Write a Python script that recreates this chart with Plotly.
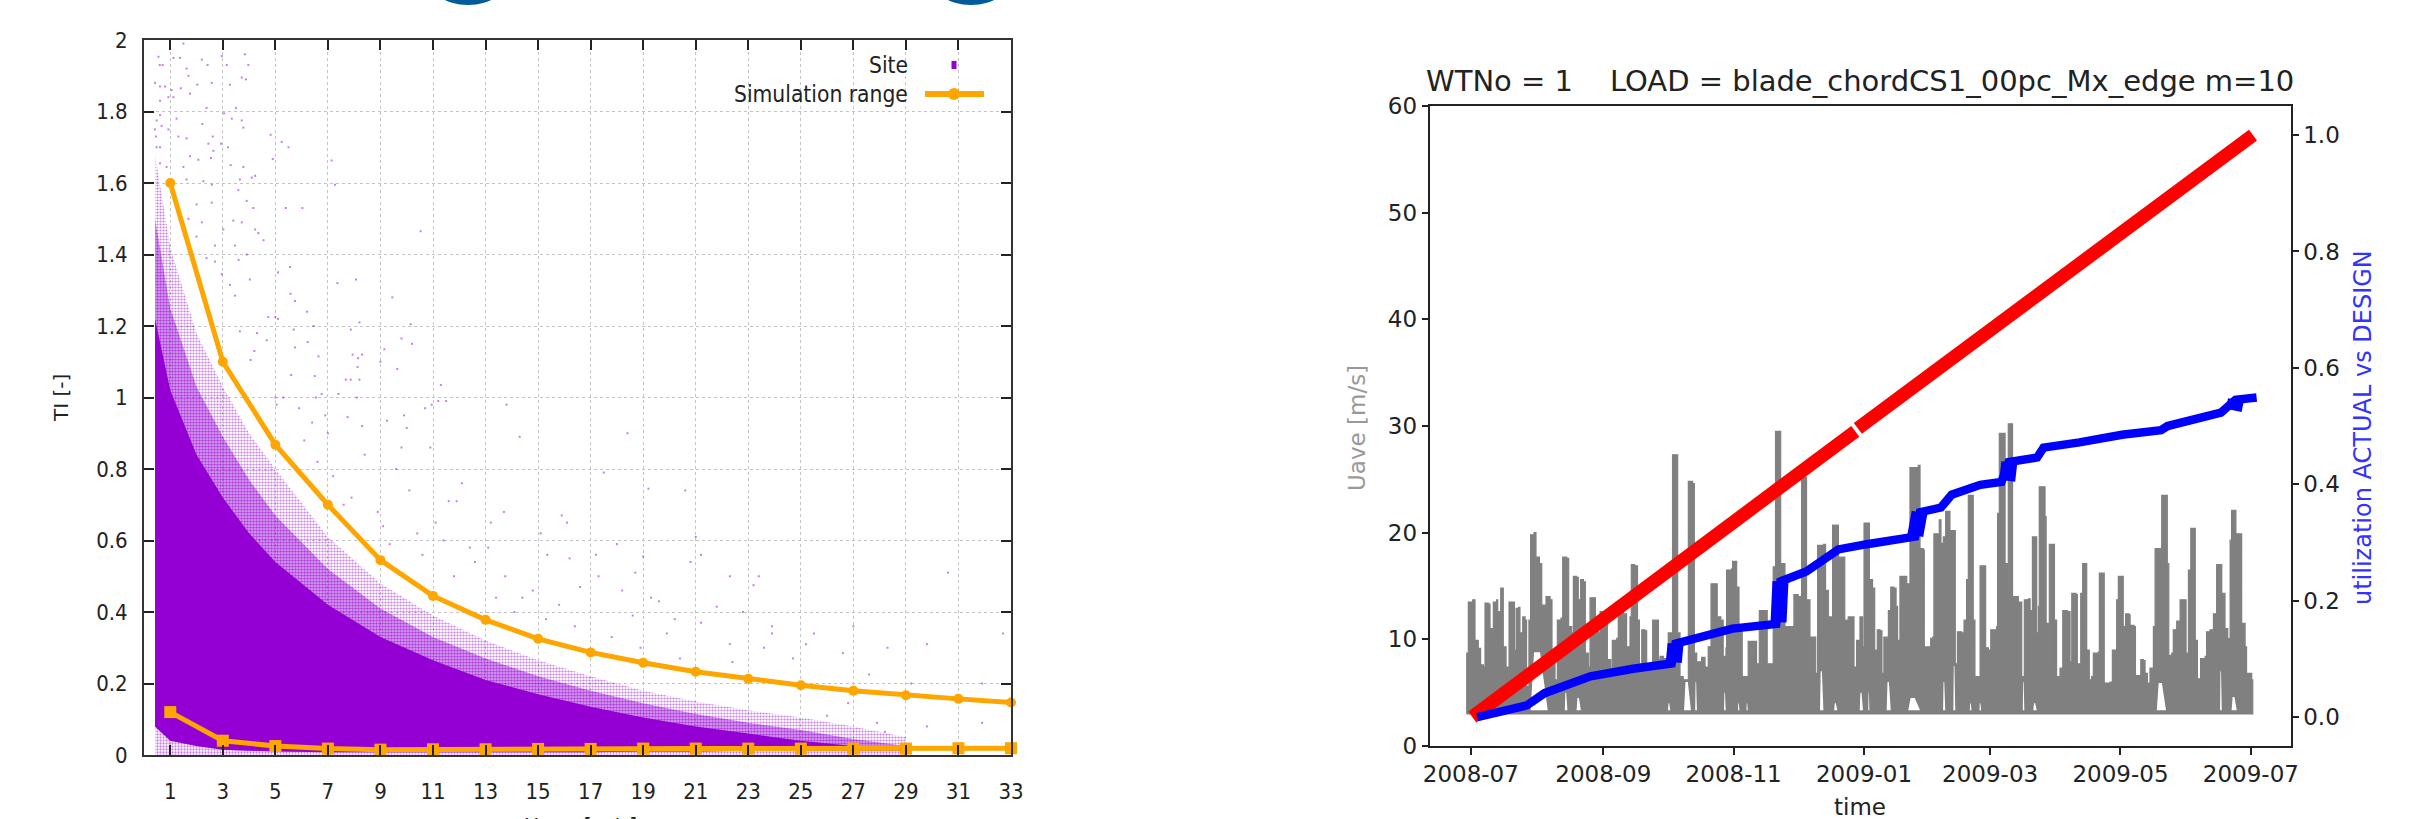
import pandas as pd
import plotly.graph_objects as go

W, H = 2411, 819
PURPLE = "#9400D3"
ORANGE = "#FFA500"

# ---- left chart: TI against wind speed
speed = [1, 3, 5, 7, 9, 11, 13, 15, 17, 19, 21, 23, 25, 27, 29, 31, 33]
ti_upper = [1.6, 1.1, 0.868, 0.7, 0.545, 0.445, 0.378, 0.325, 0.287, 0.258, 0.233, 0.213, 0.195, 0.18, 0.167, 0.157, 0.147]
ti_lower = [0.12, 0.04, 0.025, 0.018, 0.015, 0.016, 0.016, 0.017, 0.017, 0.018, 0.018, 0.018, 0.018, 0.018, 0.018, 0.019, 0.019]

cloud_x = [0.42, 1, 2, 3, 4, 5, 7, 9, 11, 13, 15, 17, 19, 21, 23, 25, 27, 29]
cloud_solid_top = [1.22, 1.02, 0.84, 0.72, 0.62, 0.54, 0.42, 0.33, 0.265, 0.21, 0.17, 0.135, 0.105, 0.08, 0.06, 0.04, 0.025, 0.015]
cloud_mid_top = [1.5, 1.25, 1.03, 0.89, 0.77, 0.67, 0.52, 0.41, 0.33, 0.27, 0.22, 0.18, 0.145, 0.115, 0.09, 0.07, 0.045, 0.025]
cloud_outer_top = [1.68, 1.42, 1.18, 1.03, 0.9, 0.8, 0.61, 0.48, 0.39, 0.32, 0.265, 0.22, 0.18, 0.15, 0.125, 0.105, 0.08, 0.05]
cloud_bottom = [0.08, 0.04, 0.025, 0.015, 0.012, 0.01, 0.008, 0.008, 0.008, 0.008, 0.008, 0.008, 0.01, 0.01, 0.012, 0.012, 0.012, 0.012]
cloud_floor = [0.0] * 18

stray_x = [0.55, 1.5, 1.37, 1.12, 2.96, 3.84, 3.97, 3.15, 2.42, 2.2, 1.62, 1.69, 0.6, 0.71, 0.61, 0.8, 0.42, 1.05, 1.4, 1.75, 2.03, 2.58, 3.72, 3.88, 3.27, 0.93, 1.12, 0.61,
           0.61, 0.48, 0.67, 0.42, 1.24, 0.93, 1.31, 0.46, 1.62, 2.38, 3.5, 3.05, 3.34, 3.72, 2.22, 3.78, 2.62, 4.82, 5.24, 5.5, 2.45, 2.93, 3.2, 2.64, 1.75, 0.61, 0.48, 2.07, 4.9, 7.14, 2.55, 3.3, 3.78,
           0.61, 0.86, 1.5, 4.23, 4.1, 1.62, 2.26, 2.58, 3.65, 7.27, 3.59, 2.0, 2.58, 3.91, 5.4, 6.03, 4.16, 1.69, 2.2, 3.4, 3.72, 3.02, 4.23, 4.35, 10.53, 2.0, 4.55, 2.7, 3.46, 3.91, 2.38, 3.6, 2.7,
           5.56, 5.1, 4.03, 8.07, 7.36, 3.27, 9.45, 5.58, 5.75, 3.46, 2.96, 6.2, 5.0, 4.73, 5.1, 8.2, 10.15, 7.87, 6.45, 5.7, 3.65, 4.3, 4.67, 9.8, 10.2, 6.23, 4.2, 5.75, 9.15, 7.94, 8.3, 6.64, 8.15, 9.0, 4.06, 9.64, 8.13, 6.5, 5.6, 7.68, 7.87, 8.2, 11.3,
           5.3, 6.76, 7.4, 5.0, 6.55, 8.1, 11.2, 11.5, 13.8, 10.7, 10.95, 5.9, 5.05, 6.9, 7.75, 9.9, 9.25, 10.0,
           14.3, 15.9, 16.1, 17.5, 18.4, 20.6, 19.2, 21.0, 21.2, 23.4, 23.2, 22.3, 19.0, 18.7, 20.8, 18.0, 17.2, 16.2, 13.2, 11.6, 11.9, 10.1, 11.1, 9.35, 13.75, 14.8, 15.35, 21.2, 23.9, 25.5, 30.6, 25.2, 26.6, 27.6, 29.2, 31.9, 29.8, 32.7, 28.3, 27.0, 22.8, 21.8, 19.6, 19.9, 18.6, 24.7, 23.6, 22.3, 26.0, 27.9, 29.8, 31.9, 28.2, 26.8, 23.9,
           6.1, 6.6, 7.2, 7.9, 8.4, 8.9, 9.6, 10.4, 10.9, 11.4, 12.1, 12.6, 13.1, 13.7, 14.4, 15.1, 15.8, 16.6, 17.3, 18.2, 19.3, 20.2, 6.4, 7.0, 7.6, 8.3, 9.1, 9.8, 10.6, 11.8, 12.4, 13.4, 14.1, 15.3, 16.4, 17.8, 18.9, 20.4, 22.4, 24.2]
stray_y = [1.953, 1.99, 1.95, 1.95, 1.955, 1.96, 1.93, 1.93, 1.93, 1.945, 1.92, 1.90, 1.93, 1.93, 1.87, 1.87, 1.88, 1.86, 1.865, 1.85, 1.875, 1.88, 1.895, 1.89, 1.875, 1.84, 1.84, 1.83,
           1.79, 1.775, 1.76, 1.75, 1.78, 1.75, 1.73, 1.73, 1.725, 1.81, 1.81, 1.795, 1.78, 1.775, 1.765, 1.755, 1.73, 1.735, 1.715, 1.70, 1.71, 1.71, 1.70, 1.69, 1.675, 1.70, 1.70, 1.665, 1.667, 1.663, 1.67, 1.65, 1.645,
           1.655, 1.645, 1.645, 1.62, 1.615, 1.61, 1.605, 1.595, 1.61, 1.595, 1.58, 1.54, 1.545, 1.55, 1.53, 1.53, 1.53, 1.50, 1.49, 1.495, 1.49, 1.47, 1.47, 1.46, 1.465, 1.45, 1.44, 1.425, 1.425, 1.40, 1.39, 1.385, 1.38,
           1.365, 1.35, 1.33, 1.33, 1.32, 1.315, 1.28, 1.29, 1.27, 1.285, 1.345, 1.24, 1.225, 1.225, 1.22, 1.21, 1.205, 1.19, 1.2, 1.19, 1.185, 1.18, 1.16, 1.165, 1.15, 1.155, 1.13, 1.14, 1.135, 1.12, 1.12, 1.115, 1.11, 1.10, 1.105, 1.08, 1.085, 1.06, 1.063, 1.05, 1.05, 1.05, 1.035,
           1.0, 1.01, 1.01, 1.0, 1.0, 1.0, 0.99, 0.99, 0.98, 0.97, 0.98, 0.97, 0.98, 0.95, 0.945, 0.95, 0.935, 0.915,
           0.89, 0.67, 0.65, 0.79, 0.90, 0.74, 0.745, 0.61, 0.56, 0.5, 0.475, 0.5, 0.555, 0.51, 0.54, 0.59, 0.56, 0.55, 0.65, 0.71, 0.71, 0.74, 0.65, 0.59, 0.5, 0.46, 0.56, 0.37, 0.36, 0.34, 0.51, 0.31, 0.285, 0.225, 0.2, 0.2, 0.31, 0.34, 0.3, 0.36, 0.4, 0.415, 0.43, 0.34, 0.39, 0.27, 0.3, 0.31, 0.11, 0.09, 0.08, 0.09, 0.065, 0.145, 0.34,
           0.88, 0.82, 0.78, 0.72, 0.84, 0.68, 0.8, 0.62, 0.86, 0.6, 0.76, 0.54, 0.58, 0.68, 0.44, 0.62, 0.42, 0.47, 0.5, 0.46, 0.44, 0.38, 0.93, 0.9, 0.7, 0.92, 0.64, 0.86, 0.56, 0.5, 0.58, 0.44, 0.4, 0.38, 0.36, 0.33, 0.3, 0.27, 0.26, 0.2]

left_y_ticks = [0, 0.2, 0.4, 0.6, 0.8, 1, 1.2, 1.4, 1.6, 1.8, 2]
left_y_labels = ["0", "0.2", "0.4", "0.6", "0.8", "1", "1.2", "1.4", "1.6", "1.8", "2"]

# ---- right chart: time series (days counted from 2008-07-01)
start_date = pd.Timestamp("2008-07-01")
date_ticks = ["2008-07-01", "2008-09-01", "2008-11-01", "2009-01-01", "2009-03-01", "2009-05-01", "2009-07-01"]
date_labels = ["2008-07", "2008-09", "2008-11", "2009-01", "2009-03", "2009-05", "2009-07"]

uave_floor = 3
uave_days = [-1.9, -1.9, -1.15, 0.9, 1.97, 3.5, 4.6, 5.9, 6.65, 8.2, 9, 10.55, 12.1, 12.6, 14, 15.2, 16.5, 17.9, 19.4, 20.4, 21.2, 22.4, 23, 24.3, 25.4, 26.1, 27.2, 28, 29.6, 30.5, 32.1, 33.2, 35.2, 37.1, 38, 39.4, 40.5, 42.2, 43, 44.9, 45.8, 47.2, 48, 49.5, 50.3, 51.4, 52.7, 53.6, 55, 55.8, 57.4, 58.3, 59.7, 60.5, 62.8, 63.9, 65.5, 66.2, 68.3, 69, 71.4, 72.9, 74.5, 75.1, 76.7, 78, 78.9, 80, 81.5, 82.3, 84.7, 85.1, 87, 87.8, 88.6, 90.1, 92.4,
             94.4, 96.3, 96.8, 97.9, 99.4, 101.8, 103.8, 104.6, 105.7, 108, 109.6, 111.1, 112.4, 114.7, 115.3, 117, 118.1, 119.4, 119.7, 122, 122.5, 123.8, 124.4, 125.5, 127, 127.8, 129.8, 132.2, 133.7, 135, 137.6, 138.7, 141.5, 142.6, 144.4, 145, 147, 150.1, 151.2, 153.2, 154.8, 156.7, 157.1, 158.7, 160.6, 161.4, 162.3, 165, 166, 167.3, 168.8, 169.3, 171.2, 172, 175, 176.6, 178.5, 179.3, 180.5, 182.1, 183.3,
             184, 185.6, 186.5, 188, 189, 190.2, 191.5, 192.4, 193.3, 195.4, 196.5, 198, 199, 199.7, 200.8, 202.8, 204, 205.5, 209.4, 210.2, 211.7, 212.2, 214.4, 215.2, 216.1, 216.7, 219.2, 220, 221.1, 222.2, 223.4, 224.2, 226.2, 226.7, 227.7, 229.7, 230.8, 232, 232.8, 234.4, 235.1, 235.9, 237.5, 238.3, 240.1, 240.9, 242.2, 243.3, 246, 246.5, 247.3, 249.2, 250, 251, 251.5, 252.6, 253.5, 256.2, 257.8, 259, 260.9, 261.7, 262.8, 264.3, 264.8, 265.6, 266, 267.6, 268.7, 269.2, 270.2, 270.7, 272.6, 273.1, 274.1, 275.7,
             277, 279.1, 280.4, 281.2, 283.2, 283.8, 285.4, 286.3, 287.4, 288.2, 289.4, 290.5, 291.3, 293.6, 294.1, 296, 296.4, 299.1, 300.2, 302.2, 303, 304.6, 305.3, 306.4, 308, 308.5, 310.3, 311, 312.8, 313.5, 314.7, 315.5, 316.6, 317.8, 319.4, 320.2, 322.2, 323.3, 324.8, 325.9, 326.6, 328, 328.7, 330.3, 331.9, 333.7, 334.7, 335.8, 336.9, 338.4, 339, 340, 341.5, 343.6, 344.3, 345.9, 347.5, 349, 350.6, 351.4, 352.9, 354.2, 355.3, 356, 357.3, 358, 359.2, 360.7, 362.3, 363, 365.4, 365.9]
uave_vals = [3, 8.7, 13.5, 13.7, 9.9, 9.15, 7.6, 7.4, 13.4, 13.3, 11, 13.5, 13.7, 12.6, 14.8, 9.3, 7.4, 13.5, 13.5, 9, 12.9, 13, 10.6, 12.1, 11.8, 5.56, 11.8, 19.8, 20, 17.7, 17.1, 13.2, 14, 13.7, 7.7, 6.2, 11.8, 12, 17.7, 17.6, 11.2, 10.6, 15.9, 15.8, 13.7, 15.6, 15.4, 8.7, 7.4, 13.9, 13.9, 11.2, 10.6, 12.6, 12.7, 8.1, 7.3, 9.9, 10.1, 12.6, 12.4, 9.3, 12.1, 17, 16.9, 11.8, 7.7, 10.9, 10.8, 7.6, 7.4, 11.8, 11.8, 8.1, 8.4, 8.2, 10.6,
             27.3, 27.3, 10.6, 6.5, 6.2, 24.8, 24.6, 8.7, 7.9, 8.3, 7.4, 9.3, 15.2, 15.2, 12.1, 11.8, 8.4, 9.2, 16.5, 16.6, 17.3, 17.3, 14.9, 11.2, 6.5, 6.5, 9.8, 9.8, 7.7, 12.7, 12.7, 7.7, 16.8, 29.5, 29.5, 17.1, 11.2, 11.2, 14.2, 14, 25.2, 25.2, 13.7, 10.2, 10.2, 6.8, 18.8, 18.9, 14.6, 12.1, 12.1, 20.7, 20.7, 17.7, 11.8, 12.1, 12.1, 7.4, 9.9, 12.1, 9.3,
             20.9, 20.9, 15.6, 14.8, 9, 10.9, 10.8, 6.8, 10.2, 12.7, 14.9, 14.8, 13.1, 9.9, 15.9, 15.9, 15.2, 26.1, 26.3, 18.5, 18.4, 9.3, 9.3, 10.1, 10.2, 19.9, 21.2, 19, 19.6, 22, 22, 20.2, 20.2, 7.7, 10.7, 10.6, 11.8, 15.6, 23.5, 23.5, 11.8, 6.5, 6.5, 16.9, 16.9, 9.2, 9, 10.9, 11.2, 21.8, 29.3, 29.3, 17.1, 14.6, 30.2, 30.2, 14, 13.5, 6.5, 13.7, 13.8, 12.7, 19.6, 19.6, 10.6, 13.1, 24.3, 24.3, 21.5, 11.5, 7.4, 18.9, 18.9, 11.8, 6.5, 7.3,
             12.7, 12.6, 7.9, 14.3, 14.2, 7.7, 14.3, 17.1, 17.1, 9, 6.2, 6.5, 8.7, 8.8, 16.2, 16.2, 5.9, 6, 9, 13.7, 15.9, 15.9, 11.2, 12.4, 12.3, 11.3, 11.2, 6.6, 6.6, 8.1, 8, 6.8, 5.9, 7.3, 11.2, 18.5, 18.5, 23.5, 23.5, 17.1, 8.5, 8.7, 10.9, 11.7, 13.7, 13.7, 8.7, 16.5, 20.4, 20.4, 9.9, 6.3, 8.2, 8.4, 10.7, 10.9, 12.4, 17, 17, 14.3, 11, 10.1, 19.3, 22.1, 22.1, 19.9, 19.9, 11.5, 9.3, 6.8, 6.2, 3]

# spaces where the grey trace leaves the floor empty
gap_start = [28, 44, 49.5, 92.3, 99.8, 105.0, 118.5, 125, 129, 163.4, 170, 182, 186, 194.6, 204.7, 221, 225.8, 233.5, 238, 258.3, 263.2, 321, 350.6, 356]
gap_end = [36, 45.2, 51.5, 93.3, 103, 105.8, 119.3, 125.7, 129.6, 165, 171.5, 183.5, 186.5, 196.5, 210.2, 222, 226.7, 234.3, 238.8, 259, 264.8, 325.3, 351.4, 358.4]
gap_top = [8.8, 5, 4.5, 4, 6, 6, 5, 4, 4, 7, 4, 5, 5, 6, 4.5, 6, 7.5, 4, 4, 6, 4, 5.9, 7, 4.6]

red_days = [0.7, 179.9, None, 181.1, 366]
red_vals = [0.0, 0.491, None, 0.496, 1.0]

blue_days = [3, 12.9, 26.2, 34.5, 46.1, 56, 76, 94, 95.8, 105.8, 122.4, 142.9, 144.9, 157, 172, 185.3, 207.9, 210.2, 220, 225, 238.4, 248.3, 251.7, 265, 268, 284.8, 304.7, 323, 326, 351, 357.8, 367.7]
blue_vals = [0.0, 0.009, 0.02, 0.041, 0.058, 0.07, 0.083, 0.092, 0.126, 0.135, 0.152, 0.16, 0.233, 0.25, 0.288, 0.297, 0.31, 0.352, 0.36, 0.382, 0.399, 0.404, 0.438, 0.446, 0.463, 0.472, 0.485, 0.493, 0.50, 0.523, 0.545, 0.549]
step_days = [95, 95.8, None, 144, 144.9, None, 208, 210, None, 251, 252, None, 357, 358]
step_vals = [0.094, 0.126, None, 0.163, 0.233, None, 0.312, 0.352, None, 0.406, 0.438, None, 0.527, 0.545]


def to_dates(days):
    return [None if d is None else start_date + pd.Timedelta(days=d) for d in days]


fig = go.Figure()


def band(top, bottom, pattern_solidity=None, size=3):
    kw = dict(x=cloud_x + cloud_x[::-1], y=top + bottom[::-1], mode="none",
              fill="toself", hoverinfo="skip", showlegend=False, xaxis="x", yaxis="y")
    if pattern_solidity:
        kw["fillcolor"] = "rgba(0,0,0,0)"
        kw["fillpattern"] = dict(shape=".", fgcolor=PURPLE, bgcolor="rgba(0,0,0,0)",
                                 size=size, solidity=pattern_solidity)
    else:
        kw["fillcolor"] = PURPLE
    return go.Scatter(**kw)


fig.add_trace(band(cloud_bottom, cloud_floor, 0.45, 3))
fig.add_trace(band(cloud_outer_top, cloud_bottom, 0.42, 3))
fig.add_trace(band(cloud_mid_top, cloud_bottom, 0.85, 3))
fig.add_trace(band(cloud_solid_top, cloud_bottom))
fig.add_trace(go.Scatter(x=stray_x, y=stray_y, mode="markers", name="Site",
                         marker=dict(color=PURPLE, size=2, symbol="square", opacity=0.5, line=dict(width=0)),
                         xaxis="x", yaxis="y", showlegend=False))
fig.add_trace(go.Scatter(x=speed, y=ti_upper, mode="lines+markers", name="Simulation range",
                         line=dict(color=ORANGE, width=5), marker=dict(color=ORANGE, size=10, symbol="circle"),
                         cliponaxis=False, xaxis="x", yaxis="y", showlegend=False))
fig.add_trace(go.Scatter(x=speed, y=ti_lower, mode="lines+markers", name="Simulation range (lower)",
                         line=dict(color=ORANGE, width=5), marker=dict(color=ORANGE, size=12, symbol="square"),
                         cliponaxis=False, xaxis="x", yaxis="y", showlegend=False))

# right chart
poly_x = uave_days + [uave_days[-1], uave_days[0]]
poly_y = uave_vals + [uave_floor, uave_floor]
fig.add_trace(go.Scatter(x=to_dates(poly_x), y=poly_y, mode="lines", fill="toself", fillcolor="#808080",
                         line=dict(color="#808080", width=1.2, shape="hv"), name="Uave", showlegend=False,
                         xaxis="x2", yaxis="y2"))
gx, gy = [], []
for a, b, t in zip(gap_start, gap_end, gap_top):
    mid_a = a + (b - a) * 0.2
    mid_b = b - (b - a) * 0.45
    gx += [a, mid_a, mid_b, b, None]
    gy += [uave_floor + 0.35, t, t, uave_floor + 0.35, None]
fig.add_trace(go.Scatter(x=to_dates(gx), y=gy, mode="none", fill="toself", fillcolor="white",
                         hoverinfo="skip", showlegend=False, xaxis="x2", yaxis="y2"))
fig.add_trace(go.Scatter(x=to_dates(red_days), y=red_vals, mode="lines", line=dict(color="#FF0000", width=13.5),
                         name="design", showlegend=False, xaxis="x2", yaxis="y3"))
fig.add_trace(go.Scatter(x=to_dates(blue_days), y=blue_vals, mode="lines", line=dict(color="#0000FF", width=8.5),
                         name="actual", showlegend=False, xaxis="x2", yaxis="y3"))
fig.add_trace(go.Scatter(x=to_dates(step_days), y=step_vals, mode="lines", line=dict(color="#0000FF", width=16),
                         name="actual steps", showlegend=False, xaxis="x2", yaxis="y3"))

LEFT_FONT = "DejaVu Sans Condensed, Liberation Sans Narrow, DejaVu Sans, sans-serif"
RIGHT_FONT = "DejaVu Sans, sans-serif"
INK = "#222222"


def px_x(p):
    return p / W


def px_y(p):
    return (H - p) / H


fig.update_layout(
    width=W, height=H, margin=dict(l=0, r=0, t=0, b=0, autoexpand=False), paper_bgcolor="white", plot_bgcolor="white",
    showlegend=False,
    xaxis=dict(domain=[px_x(144), px_x(1011)], range=[0, 33], tickvals=speed, ticktext=[str(s) for s in speed],
               ticks="inside", ticklen=10, tickwidth=1.5, tickcolor=INK, mirror="allticks", showline=True,
               linecolor="#333333", linewidth=2, showgrid=True, gridcolor="#C4C4C4", griddash="dot", gridwidth=1,
               zeroline=False, tickfont=dict(family=LEFT_FONT, size=22, color=INK), ticklabelstandoff=16, anchor="y"),
    yaxis=dict(domain=[px_y(755), px_y(40)], range=[0, 2], tickvals=left_y_ticks, ticktext=left_y_labels,
               ticks="inside", ticklen=10, tickwidth=1.5, tickcolor=INK, mirror="allticks", showline=True,
               linecolor="#333333", linewidth=2, showgrid=True, gridcolor="#C4C4C4", griddash="dot", gridwidth=1,
               zeroline=False, tickfont=dict(family=LEFT_FONT, size=22, color=INK), ticklabelstandoff=10, anchor="x"),
    xaxis2=dict(domain=[px_x(1430.4), px_x(2290.6)], type="date",
                range=[start_date + pd.Timedelta(days=-18.9), start_date + pd.Timedelta(days=383.6)],
                tickvals=date_ticks, ticktext=date_labels, ticks="outside", ticklen=7, tickwidth=1.5, tickcolor=INK,
                showline=True, mirror=True, linecolor=INK, linewidth=1.5, showgrid=False, zeroline=False,
                tickfont=dict(family=RIGHT_FONT, size=23, color=INK), anchor="y2"),
    yaxis2=dict(domain=[px_y(746), px_y(106)], range=[0, 60], tickvals=[0, 10, 20, 30, 40, 50, 60],
                ticks="outside", ticklen=7, tickwidth=1.5, tickcolor=INK, showline=True, mirror=True,
                linecolor=INK, linewidth=1.5, showgrid=False, zeroline=False,
                tickfont=dict(family=RIGHT_FONT, size=23, color=INK), anchor="x2"),
    yaxis3=dict(domain=[px_y(746), px_y(106)], range=[-0.0498, 1.05], overlaying="y2", side="right",
                tickvals=[0, 0.2, 0.4, 0.6, 0.8, 1.0], ticktext=["0.0", "0.2", "0.4", "0.6", "0.8", "1.0"],
                ticks="outside", ticklen=7, tickwidth=1.5, tickcolor=INK, showgrid=False, zeroline=False,
                tickfont=dict(family=RIGHT_FONT, size=23, color=INK), anchor="x2"),
)


def note(text, x, y, size, family, color=INK, angle=0, xanchor="center", yanchor="middle"):
    fig.add_annotation(text=text, xref="paper", yref="paper", x=px_x(x), y=px_y(y), showarrow=False,
                       font=dict(size=size, family=family, color=color), textangle=angle,
                       xanchor=xanchor, yanchor=yanchor, align="center")


note("TI [-]", 61, 398, 20, RIGHT_FONT, angle=-90)
note("Uave [m/s]", 580, 812, 23, LEFT_FONT, yanchor="top")
note("Site", 910, 65, 22.6, LEFT_FONT, xanchor="right")
note("Simulation range", 910, 94, 22.6, LEFT_FONT, xanchor="right")
note("WTNo = 1&nbsp;&nbsp;&nbsp;&nbsp;LOAD = blade_chordCS1_00pc_Mx_edge m=10", 1860, 81, 29, RIGHT_FONT)
note("time", 1860, 807, 23, RIGHT_FONT)
note("Uave [m/s]", 1357, 428, 23, RIGHT_FONT, color="#999999", angle=-90)
note("utilization ACTUAL vs DESIGN", 2363, 428, 24, RIGHT_FONT, color="#3333FF", angle=-90)

# legend samples and the two page-top glyph bottoms of the source slide
fig.add_shape(type="rect", xref="paper", yref="paper", x0=px_x(951.5), x1=px_x(956.5), y0=px_y(69), y1=px_y(61),
              fillcolor=PURPLE, line_width=0)
fig.add_shape(type="line", xref="paper", yref="paper", x0=px_x(925), x1=px_x(984), y0=px_y(94), y1=px_y(94),
              line=dict(color=ORANGE, width=6))
fig.add_shape(type="circle", xref="paper", yref="paper", x0=px_x(948), x1=px_x(960), y0=px_y(100), y1=px_y(88),
              fillcolor=ORANGE, line_width=0)
for cx in (468, 971):
    fig.add_shape(type="circle", xref="paper", yref="paper", x0=px_x(cx - 42), x1=px_x(cx + 42),
                  y0=px_y(5), y1=px_y(-55), fillcolor="#005A9C", line_width=0)

fig.write_html("out.html", config={"displayModeBar": False}, post_script="document.body.style.margin='0';")
